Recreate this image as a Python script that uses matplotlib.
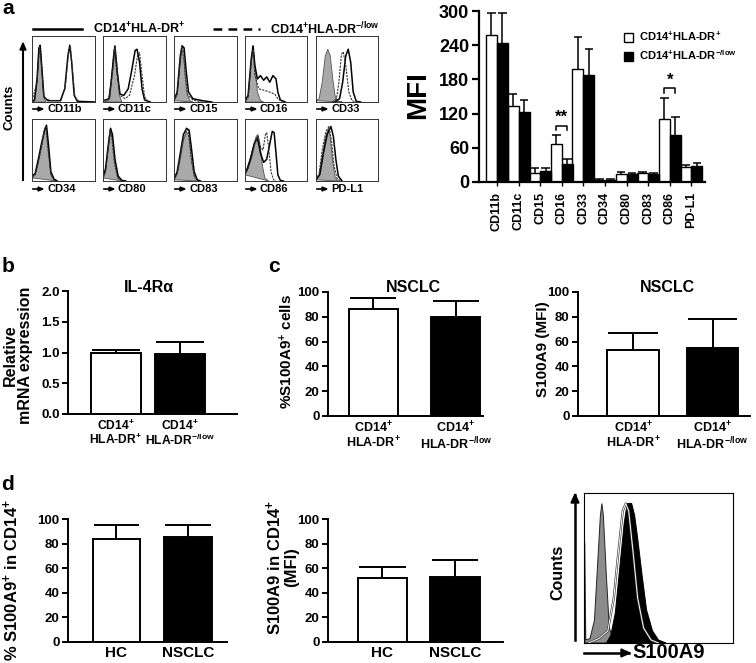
import matplotlib
matplotlib.use('Agg')
import matplotlib.pyplot as plt

plt.rcParams['font.family'] = ['Liberation Sans', 'DejaVu Sans']
plt.rcParams['font.weight'] = 'bold'
plt.rcParams['axes.labelweight'] = 'bold'
plt.rcParams['mathtext.fontset'] = 'custom'
plt.rcParams['mathtext.rm'] = 'Liberation Sans:bold'
plt.rcParams['mathtext.bf'] = 'Liberation Sans:bold'
plt.rcParams['mathtext.default'] = 'bf'

# ---- data ----
lab_pos = r'CD14$^{+}$HLA-DR$^{+}$'
lab_low = r'CD14$^{+}$HLA-DR$^{-/low}$'
cat_pos = 'CD14$^{+}$\nHLA-DR$^{+}$'
cat_low = 'CD14$^{+}$\nHLA-DR$^{-/low}$'

# panel a, MFI bars
markers_a = ['CD11b', 'CD11c', 'CD15', 'CD16', 'CD33', 'CD34', 'CD80', 'CD83', 'CD86', 'PD-L1']
mfi_pos = [258, 134, 16, 67, 198, 4, 14, 15, 110, 26]
mfi_pos_sd = [38, 20, 9, 16, 56, 1, 3, 3, 38, 4]
mfi_low = [243, 123, 19, 31, 187, 4, 14, 14, 83, 28]
mfi_low_sd = [53, 20, 6, 9, 46, 1, 2, 2, 31, 5]

# panel a, flow histograms (fraction of axis)
iso_curves = [
    [(0, 0), (0.04, 0.02), (0.08, 0.3), (0.11, 0.8), (0.13, 0.85), (0.15, 0.6), (0.18, 0.1), (0.22, 0)],
    [(0, 0), (0.08, 0.02), (0.13, 0.3), (0.17, 0.78), (0.19, 0.83), (0.22, 0.6), (0.26, 0.1), (0.3, 0)],
    [(0, 0.02), (0.05, 0.1), (0.1, 0.6), (0.13, 0.8), (0.16, 0.6), (0.2, 0.15), (0.25, 0.02), (0.3, 0)],
    [(0, 0), (0.05, 0.05), (0.1, 0.6), (0.13, 0.85), (0.16, 0.55), (0.2, 0.15), (0.25, 0.02), (0.3, 0)],
    [(0, 0.02), (0.05, 0.05), (0.1, 0.3), (0.15, 0.7), (0.19, 0.8), (0.23, 0.7), (0.27, 0.35), (0.31, 0.08), (0.36, 0.01), (0.42, 0)],
    [(0, 0.05), (0.05, 0.1), (0.1, 0.3), (0.15, 0.55), (0.2, 0.8), (0.23, 0.85), (0.26, 0.5), (0.3, 0.1), (0.35, 0.01), (0.4, 0)],
    [(0, 0.05), (0.04, 0.15), (0.08, 0.5), (0.12, 0.8), (0.15, 0.7), (0.19, 0.3), (0.24, 0.05), (0.3, 0)],
    [(0, 0.02), (0.05, 0.1), (0.1, 0.35), (0.15, 0.65), (0.2, 0.8), (0.24, 0.7), (0.28, 0.3), (0.33, 0.05), (0.38, 0)],
    [(0, 0.1), (0.03, 0.2), (0.08, 0.35), (0.13, 0.55), (0.18, 0.72), (0.21, 0.75), (0.24, 0.6), (0.28, 0.25), (0.32, 0.05), (0.38, 0)],
    [(0, 0.02), (0.05, 0.1), (0.1, 0.4), (0.15, 0.7), (0.2, 0.85), (0.23, 0.7), (0.27, 0.3), (0.31, 0.05), (0.36, 0)],
]
pos_curves = [
    [(0, 0.02), (0.04, 0.03), (0.08, 0.35), (0.11, 0.82), (0.13, 0.86), (0.15, 0.6), (0.19, 0.08), (0.25, 0.02), (0.45, 0.02), (0.52, 0.2), (0.57, 0.7), (0.6, 0.86), (0.63, 0.6), (0.67, 0.1), (0.72, 0.01), (1, 0)],
    [(0, 0.02), (0.1, 0.05), (0.15, 0.5), (0.19, 0.85), (0.22, 0.5), (0.27, 0.12), (0.33, 0.1), (0.4, 0.2), (0.46, 0.5), (0.51, 0.78), (0.54, 0.8), (0.58, 0.6), (0.62, 0.2), (0.66, 0.03), (0.75, 0)],
    [(0, 0.03), (0.05, 0.15), (0.1, 0.7), (0.13, 0.85), (0.16, 0.82), (0.19, 0.5), (0.23, 0.15), (0.3, 0.05), (0.45, 0.02), (0.6, 0)],
    [(0, 0.02), (0.05, 0.1), (0.1, 0.65), (0.13, 0.85), (0.16, 0.55), (0.2, 0.35), (0.25, 0.4), (0.3, 0.33), (0.35, 0.38), (0.4, 0.3), (0.45, 0.4), (0.5, 0.35), (0.53, 0.15), (0.57, 0.03), (0.65, 0)],
    [(0.3, 0), (0.38, 0.05), (0.43, 0.3), (0.48, 0.7), (0.52, 0.8), (0.56, 0.6), (0.6, 0.15), (0.65, 0.01), (0.72, 0)],
    [(0, 0.08), (0.05, 0.12), (0.1, 0.35), (0.15, 0.6), (0.2, 0.82), (0.23, 0.9), (0.26, 0.6), (0.3, 0.15), (0.35, 0.03), (0.4, 0)],
    [(0, 0.05), (0.04, 0.2), (0.08, 0.55), (0.12, 0.85), (0.15, 0.75), (0.19, 0.35), (0.24, 0.08), (0.3, 0.01), (0.36, 0)],
    [(0, 0.03), (0.05, 0.15), (0.1, 0.45), (0.15, 0.75), (0.2, 0.85), (0.24, 0.82), (0.28, 0.5), (0.32, 0.15), (0.37, 0.02), (0.42, 0)],
    [(0, 0.12), (0.04, 0.2), (0.1, 0.4), (0.15, 0.6), (0.2, 0.7), (0.25, 0.45), (0.3, 0.3), (0.35, 0.35), (0.4, 0.6), (0.44, 0.8), (0.47, 0.78), (0.5, 0.45), (0.53, 0.1), (0.57, 0.01), (0.62, 0)],
    [(0, 0.02), (0.06, 0.1), (0.12, 0.45), (0.18, 0.75), (0.24, 0.88), (0.28, 0.72), (0.32, 0.35), (0.36, 0.08), (0.42, 0)],
]
low_curves = [
    [(0, 0.02), (0.08, 0.3), (0.12, 0.84), (0.15, 0.55), (0.19, 0.06), (0.3, 0.02), (0.46, 0.02), (0.53, 0.25), (0.58, 0.75), (0.61, 0.84), (0.64, 0.5), (0.68, 0.08), (0.75, 0)],
    [(0, 0.02), (0.1, 0.04), (0.15, 0.45), (0.19, 0.82), (0.22, 0.45), (0.27, 0.1), (0.35, 0.05), (0.42, 0.1), (0.5, 0.4), (0.55, 0.72), (0.58, 0.75), (0.62, 0.4), (0.66, 0.08), (0.72, 0)],
    [(0, 0.03), (0.05, 0.12), (0.1, 0.65), (0.12, 0.85), (0.15, 0.8), (0.18, 0.4), (0.22, 0.1), (0.3, 0.03), (0.45, 0)],
    [(0, 0.02), (0.05, 0.08), (0.1, 0.6), (0.13, 0.8), (0.16, 0.4), (0.22, 0.2), (0.3, 0.18), (0.4, 0.15), (0.48, 0.12), (0.53, 0.05), (0.6, 0)],
    [(0.26, 0), (0.33, 0.05), (0.37, 0.3), (0.41, 0.72), (0.44, 0.76), (0.48, 0.55), (0.53, 0.15), (0.58, 0.02), (0.65, 0)],
    [(0, 0.06), (0.05, 0.1), (0.1, 0.3), (0.15, 0.55), (0.2, 0.85), (0.22, 0.88), (0.25, 0.55), (0.3, 0.1), (0.36, 0)],
    [(0, 0.05), (0.04, 0.15), (0.08, 0.5), (0.11, 0.82), (0.14, 0.7), (0.18, 0.3), (0.23, 0.05), (0.3, 0)],
    [(0, 0.03), (0.05, 0.12), (0.1, 0.4), (0.15, 0.7), (0.2, 0.85), (0.23, 0.8), (0.27, 0.4), (0.32, 0.08), (0.38, 0)],
    [(0, 0.1), (0.05, 0.2), (0.1, 0.35), (0.16, 0.6), (0.21, 0.72), (0.25, 0.55), (0.29, 0.5), (0.33, 0.75), (0.35, 0.78), (0.38, 0.55), (0.42, 0.15), (0.46, 0.02), (0.5, 0)],
    [(0, 0.02), (0.05, 0.12), (0.1, 0.5), (0.16, 0.8), (0.21, 0.88), (0.25, 0.65), (0.29, 0.25), (0.34, 0.04), (0.4, 0)],
]

# panel b
il4r = [1.00, 0.97]
il4r_sd = [0.04, 0.20]

# panel c
s100_pct_c = [86, 80]
s100_pct_c_sd = [9, 13]
s100_mfi_c = [53, 55]
s100_mfi_c_sd = [14, 23]

# panel d
groups_d = ['HC', 'NSCLC']
s100_pct_d = [84, 85]
s100_pct_d_sd = [11, 10]
s100_mfi_d = [52, 53]
s100_mfi_d_sd = [9, 14]

s100_iso = [(0.005, 0), (0.005, 0.67), (0.012, 0.02), (0.04, 0.03), (0.07, 0.15), (0.09, 0.5), (0.11, 0.85),
            (0.12, 0.93), (0.13, 0.85), (0.15, 0.45), (0.17, 0.1), (0.2, 0.01), (0.24, 0)]
s100_hc = [(0.03, 0), (0.1, 0.03), (0.16, 0.08), (0.2, 0.3), (0.23, 0.6), (0.26, 0.88), (0.28, 0.93),
           (0.3, 0.88), (0.33, 0.6), (0.36, 0.3), (0.4, 0.1), (0.45, 0.02), (0.5, 0)]
s100_nsclc = [(0.15, 0), (0.18, 0.05), (0.21, 0.2), (0.24, 0.5), (0.27, 0.8), (0.29, 0.93), (0.32, 0.93),
              (0.34, 0.85), (0.36, 0.7), (0.39, 0.45), (0.42, 0.22), (0.46, 0.08), (0.5, 0.02), (0.55, 0)]

W, H = 756, 663
fig = plt.figure(figsize=(W / 100, H / 100), dpi=100)

def fx(x):
    return x / W

def fy(y):
    return 1 - y / H

def px_axes(l, t, r, b):
    return fig.add_axes([l / W, 1 - b / H, (r - l) / W, (b - t) / H])

def style_bar_axes(ax, lw=1.4, ysize=9.5):
    for s in ['top', 'right']:
        ax.spines[s].set_visible(False)
    for s in ['left', 'bottom']:
        ax.spines[s].set_linewidth(lw)
    ax.tick_params(axis='y', length=4, width=lw, labelsize=ysize, pad=2)
    ax.tick_params(axis='x', length=0, pad=3)

def bold_ticks(ax):
    for t in ax.get_xticklabels() + ax.get_yticklabels():
        t.set_fontweight('bold')

def bars(ax, xs, vals, sds, width, cap, lw=1.4):
    colors = ['white', 'black']
    for x, v, s, c in zip(xs, vals, sds, colors):
        ax.bar(x, v, width, color=c, edgecolor='black', linewidth=lw, zorder=2)
        ax.vlines(x, v, v + s, color='black', linewidth=lw, zorder=1)
        ax.hlines(v + s, x - cap, x + cap, color='black', linewidth=lw, zorder=1)

def fig_arrow(x0, y0, x1, y1, lw=1.5, head=4):
    # straight arrow in pixel coords, head at (x1, y1)
    fig.add_artist(plt.Line2D([fx(x0), fx(x1)], [fy(y0), fy(y1)], color='black', lw=lw))
    if y0 == y1:
        pts = [[fx(x1 - 2 * head), fy(y1 - head)], [fx(x1 - 2 * head), fy(y1 + head)], [fx(x1 + 1), fy(y1)]]
    else:
        pts = [[fx(x1 - head), fy(y1 + 2 * head)], [fx(x1 + head), fy(y1 + 2 * head)], [fx(x1), fy(y1 - 1)]]
    fig.add_artist(plt.Polygon(pts, closed=True, color='black'))

# ---- panel a: histograms ----
fig.text(fx(8), fy(8), 'a', fontsize=15, ha='center', va='center', fontweight='bold')
fig.add_artist(plt.Line2D([fx(33), fx(82)], [fy(29), fy(29)], color='black', lw=1.8))
fig.text(fx(93), fy(29), lab_pos, fontsize=9, va='center', fontweight='bold')
fig.add_artist(plt.Line2D([fx(213), fx(260)], [fy(29), fy(29)], color='black', lw=1.8, dashes=(3.5, 2.5)))
fig.text(fx(270), fy(29), lab_low, fontsize=9, va='center', fontweight='bold')
fig.text(fx(10), fy(107), 'Counts', rotation=90, fontsize=9.5, ha='center', va='center', fontweight='bold')
fig_arrow(23, 180, 23, 44, lw=1.5, head=3)

box_x = [(32, 95), (103, 166), (174, 237), (245, 307), (316, 378)]
box_y = [(36, 102), (119, 181)]
label_y = [109, 189]
for i, m in enumerate(markers_a):
    row, col = divmod(i, 5)
    l, r = box_x[col]
    t, b = box_y[row]
    ax = px_axes(l, t, r, b)
    ix, iy = zip(*iso_curves[i])
    ax.fill(ix, iy, color='#a9a9a9', edgecolor='#555555', linewidth=0.6)
    px_, py_ = zip(*pos_curves[i])
    ax.plot(px_, py_, color='black', lw=1.1)
    lx, ly = zip(*low_curves[i])
    ax.plot(lx, ly, color='#333333', lw=0.8, dashes=(2, 1))
    ax.set_xlim(0, 1)
    ax.set_ylim(0, 1)
    ax.set_xticks([])
    ax.set_yticks([])
    for s in ax.spines.values():
        s.set_linewidth(0.7)
        s.set_color('#333333')
    fig_arrow(l + 1, label_y[row], l + 10, label_y[row], lw=1.2, head=2)
    fig.text(fx(l + 15), fy(label_y[row]), m, fontsize=8, va='center', ha='left', fontweight='bold')

# ---- panel a: MFI bar chart ----
ax = px_axes(479, 11, 705, 182)
style_bar_axes(ax, lw=1.6)
xs = list(range(len(markers_a)))
bw = 0.51
ax.bar([x - bw / 2 for x in xs], mfi_pos, bw, color='white', edgecolor='black', linewidth=1.0, zorder=2,
       label=lab_pos)
ax.bar([x + bw / 2 for x in xs], mfi_low, bw, color='black', edgecolor='black', linewidth=1.0, zorder=2,
       label=lab_low)
for x, v, s in zip(xs, mfi_pos, mfi_pos_sd):
    ax.vlines(x - bw / 2, v, v + s, color='black', lw=1.1, zorder=1)
    ax.hlines(v + s, x - bw / 2 - 0.2, x - bw / 2 + 0.2, color='black', lw=1.1, zorder=1)
for x, v, s in zip(xs, mfi_low, mfi_low_sd):
    ax.vlines(x + bw / 2, v, v + s, color='black', lw=1.1, zorder=1)
    ax.hlines(v + s, x + bw / 2 - 0.2, x + bw / 2 + 0.2, color='black', lw=1.1, zorder=1)
ax.set_xlim(-0.83, 9.63)
ax.set_ylim(0, 300)
ax.set_yticks([0, 60, 120, 180, 240, 300])
ax.tick_params(axis='y', labelsize=13, length=5, width=1.6, pad=2)
ax.set_xticks(xs)
ax.set_xticklabels(markers_a, rotation=90, fontsize=9)
ax.tick_params(axis='x', length=3, width=1.0, pad=4)
bold_ticks(ax)
# significance brackets
for gi, ytop, star in [(3, 99, '**'), (8, 165, '*')]:
    x0, x1 = gi - bw / 2, gi + bw / 2
    ax.plot([x0, x0, x1, x1], [ytop - 8, ytop, ytop, ytop - 8], color='black', lw=1.1)
    ax.text(gi, ytop + 1, star, ha='center', va='bottom', fontsize=12, fontweight='bold')
ax.legend(loc='upper left', bbox_to_anchor=(fx(624), fy(30)), bbox_transform=fig.transFigure,
          frameon=False, prop={'size': 8, 'weight': 'bold'}, handlelength=0.85, handleheight=0.85,
          handletextpad=0.5, labelspacing=0.45, borderpad=0, borderaxespad=0)
fig.text(fx(418), fy(95), 'MFI', rotation=90, fontsize=20, ha='center', va='center', fontweight='bold')

# ---- panel b ----
fig.text(fx(8), fy(267), 'b', fontsize=15, ha='center', va='center', fontweight='bold')
ax = px_axes(68, 291, 237, 414)
style_bar_axes(ax)
bars(ax, [0, 1], il4r, il4r_sd, 0.78, 0.37)
ax.set_xlim(-0.75, 1.89)
ax.set_ylim(0, 2.0)
ax.set_yticks([0, 0.5, 1.0, 1.5, 2.0])
ax.set_yticklabels(['0.0', '0.5', '1.0', '1.5', '2.0'])
ax.set_xticks([0, 1])
ax.set_xticklabels([cat_pos, cat_low], fontsize=8.7, linespacing=1.0)
bold_ticks(ax)
fig.text(fx(149), fy(288), 'IL-4R\u03b1', fontsize=11.5, ha='center', va='center', fontweight='bold')
fig.text(fx(18), fy(355), 'Relative\nmRNA expression', rotation=90, fontsize=11.5, ha='center',
         va='center', linespacing=0.95, fontweight='bold')

# ---- panel c ----
fig.text(fx(274), fy(267), 'c', fontsize=15, ha='center', va='center', fontweight='bold')
ax = px_axes(328, 292, 483, 416)
style_bar_axes(ax)
bars(ax, [0, 1], s100_pct_c, s100_pct_c_sd, 0.59, 0.28)
ax.set_xlim(-0.55, 1.33)
ax.set_ylim(0, 100)
ax.set_yticks([0, 20, 40, 60, 80, 100])
ax.set_xticks([0, 1])
ax.set_xticklabels([cat_pos, cat_low], fontsize=9, linespacing=1.0)
bold_ticks(ax)
fig.text(fx(413), fy(287), 'NSCLC', fontsize=11.5, ha='center', va='center', fontweight='bold')
fig.text(fx(287), fy(352), r'%S100A9$^{+}$ cells', rotation=90, fontsize=11, ha='center', va='center',
         fontweight='bold')

ax = px_axes(578, 292, 750, 416)
style_bar_axes(ax)
bars(ax, [0, 1], s100_mfi_c, s100_mfi_c_sd, 0.65, 0.31)
ax.set_xlim(-0.69, 1.47)
ax.set_ylim(0, 100)
ax.set_yticks([0, 20, 40, 60, 80, 100])
ax.set_xticks([0, 1])
ax.set_xticklabels([cat_pos, cat_low], fontsize=9, linespacing=1.0)
bold_ticks(ax)
fig.text(fx(667), fy(287), 'NSCLC', fontsize=11.5, ha='center', va='center', fontweight='bold')
fig.text(fx(543), fy(349), 'S100A9 (MFI)', rotation=90, fontsize=11, ha='center', va='center',
         fontweight='bold')

# ---- panel d ----
fig.text(fx(8), fy(484), 'd', fontsize=15, ha='center', va='center', fontweight='bold')
ax = px_axes(68, 519, 227, 642)
style_bar_axes(ax)
bars(ax, [0, 1], s100_pct_d, s100_pct_d_sd, 0.67, 0.32)
ax.set_xlim(-0.68, 1.55)
ax.set_ylim(0, 100)
ax.set_yticks([0, 20, 40, 60, 80, 100])
ax.set_xticks([0, 1])
ax.set_xticklabels(groups_d, fontsize=11)
bold_ticks(ax)
fig.text(fx(11), fy(580), r'% S100A9$^{+}$ in CD14$^{+}$', rotation=90, fontsize=12, ha='center',
         va='center', fontweight='bold')

ax = px_axes(328, 519, 503, 642)
style_bar_axes(ax)
bars(ax, [0, 1], s100_mfi_d, s100_mfi_d_sd, 0.68, 0.32)
ax.set_xlim(-0.75, 1.66)
ax.set_ylim(0, 100)
ax.set_yticks([0, 20, 40, 60, 80, 100])
ax.set_xticks([0, 1])
ax.set_xticklabels(groups_d, fontsize=11)
bold_ticks(ax)
fig.text(fx(282), fy(567), 'S100A9 in CD14$^{+}$\n(MFI)', rotation=90, fontsize=12, ha='center',
         va='center', linespacing=0.95, fontweight='bold')

# S100A9 histogram
ax = px_axes(584, 493, 733, 643)
ix, iy = zip(*s100_iso)
ax.fill(ix, iy, color='#8c8c8c', edgecolor='#222222', linewidth=0.7)
hx, hy = zip(*s100_hc)
ax.plot(hx, hy, color='#333333', lw=1.6)
ax.plot(hx, hy, color='white', lw=0.7)
nx, ny = zip(*s100_nsclc)
ax.fill(nx, ny, color='black', edgecolor='black', linewidth=0.7)
ax.set_xlim(0, 1)
ax.set_ylim(0, 1)
ax.set_xticks([])
ax.set_yticks([])
for s in ax.spines.values():
    s.set_linewidth(0.8)
fig.text(fx(558), fy(572), 'Counts', rotation=90, fontsize=11.5, ha='center', va='center', fontweight='bold')
fig_arrow(575, 640, 575, 495, lw=1.8, head=4)
fig_arrow(584, 653, 629, 653, lw=1.8, head=4)
fig.text(fx(632), fy(653), 'S100A9', fontsize=14.5, ha='left', va='center', fontweight='bold')

plt.savefig('out.png', dpi=100)
